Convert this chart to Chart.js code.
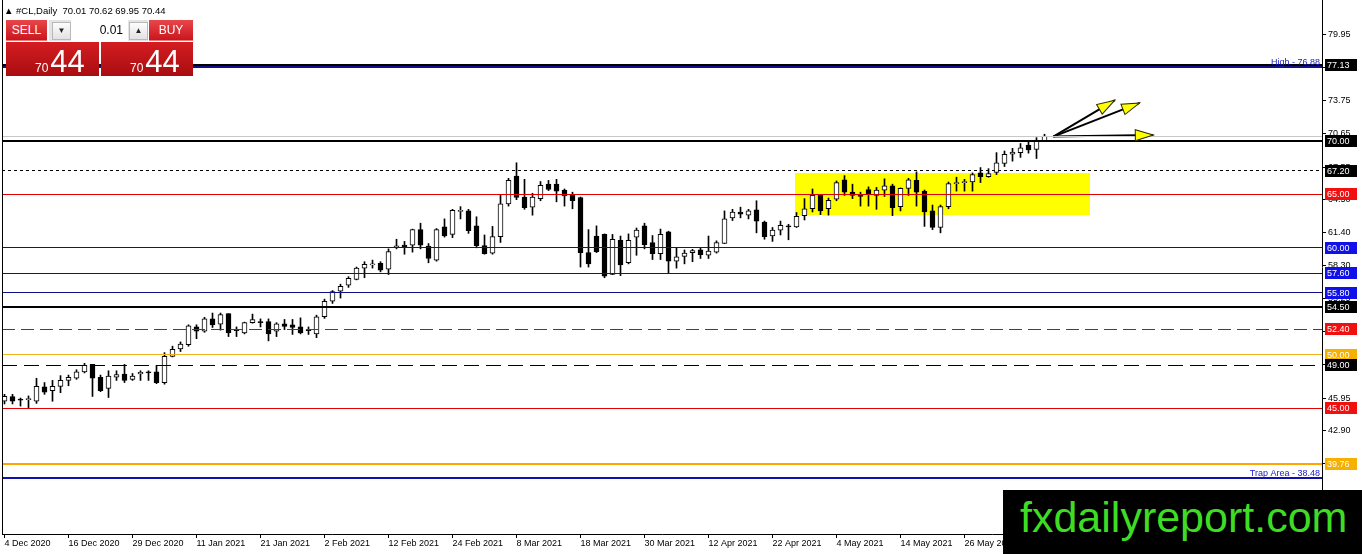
<!DOCTYPE html>
<html>
<head>
<meta charset="utf-8">
<script src="https://cdn.jsdelivr.net/npm/chart.js@4.4.0/dist/chart.umd.min.js"></script>
<style>
  html, body { margin: 0; padding: 0; background: #fff; }
  #wrap { position: relative; width: 1362px; height: 554px; overflow: hidden; font-family: "Liberation Sans", Arial, sans-serif; }
  #chart { position: absolute; left: 0; top: 0; }
  .hdr { position: absolute; left: 4px; top: 5px; font-size: 9.5px; line-height: 11px; color: #000; white-space: pre; }
  .btn { position: absolute; top: 20px; height: 21px; line-height: 21px; color: #fff; font-size: 12px; text-align: center;
         background: linear-gradient(#e8474b, #c9161c); box-sizing: border-box; border-bottom: 1px solid #e87a7c; }
  .sell { left: 6px; width: 41px; }
  .buy { left: 149px; width: 44px; }
  .spin { position: absolute; left: 49px; top: 20px; width: 99px; height: 21px; background: #e4e4e4; }
  .spin .dn, .spin .up { position: absolute; top: 2px; width: 17px; height: 16px; border: 1px solid #b8b8b8;
         background: linear-gradient(#fdfdfd, #e2e2e2); font-size: 8px; line-height: 16px; text-align: center; color: #222; }
  .spin .dn { left: 3px; }
  .spin .up { left: 80px; }
  .spin .lot { position: absolute; left: 22px; top: 0; width: 57px; height: 21px; background: #fff; font-size: 12px;
         line-height: 21px; text-align: right; box-sizing: border-box; padding-right: 5px; color: #000; }
  .quote { position: absolute; top: 42px; height: 34px; background: linear-gradient(#d41d22, #a80d11); color: #fff; }
  .q1 { left: 6px; width: 93px; }
  .q2 { left: 101px; width: 92px; }
  .quote .num { position: absolute; bottom: -1px; line-height: 1; white-space: nowrap; }
  .q1 .num { left: 29px; }
  .q2 .num { left: 29px; }
  .quote .s { font-size: 12px; }
  .quote .b { font-size: 31px; margin-left: 2px; }
  .mark { position: absolute; left: 1003px; top: 490px; width: 359px; height: 64px; background: #000; }
  .mark span { position: absolute; left: 17px; top: 6px; font-size: 43px; line-height: 43px; color: #3fdc24; white-space: nowrap; }
</style>
</head>
<body>
<div id="wrap">
  <canvas id="chart" width="1362" height="554"></canvas>
  <div class="hdr">▲ #CL,Daily  70.01 70.62 69.95 70.44</div>
  <div class="btn sell">SELL</div>
  <div class="spin"><div class="dn">▼</div><div class="lot">0.01</div><div class="up">▲</div></div>
  <div class="btn buy">BUY</div>
  <div class="quote q1"><div class="num"><span class="s">70</span><span class="b">44</span></div></div>
  <div class="quote q2"><div class="num"><span class="s">70</span><span class="b">44</span></div></div>
  <div class="mark"><span>fxdailyreport.com</span></div>
</div>
<script>
// --------------------------- DATA ---------------------------

// date ticks (bar index) and their labels
const dateTicks = [0, 8, 16, 24, 32, 40, 48, 56, 64, 72, 80, 88, 96, 104, 112, 120];
const dateLabels = ['4 Dec 2020', '16 Dec 2020', '29 Dec 2020', '11 Jan 2021', '21 Jan 2021', '2 Feb 2021',
    '12 Feb 2021', '24 Feb 2021', '8 Mar 2021', '18 Mar 2021', '30 Mar 2021', '12 Apr 2021',
    '22 Apr 2021', '4 May 2021', '14 May 2021', '26 May 2021'];

// daily candles, one per bar
const opens = [45.65, 46.1, 45.85, 45.8, 45.65, 47.0, 46.65, 47.05, 47.6, 47.8,
    48.4, 49.1, 47.9, 46.85, 47.9, 48.2, 47.7, 48.2, 48.35, 48.4,
    47.4, 49.85, 50.55, 50.95, 52.6, 52.2, 53.35, 52.85, 53.85, 52.35,
    52.05, 53.0, 53.05, 53.1, 52.2, 52.9, 52.8, 52.6, 52.3, 51.95,
    53.55, 55.0, 55.95, 56.5, 57.05, 58.1, 58.4, 58.55, 58.0, 60.1,
    60.25, 60.25, 61.7, 60.15, 58.85, 61.95, 61.25, 63.4, 63.45, 62.05,
    60.2, 59.5, 61.05, 64.1, 66.7, 64.75, 63.8, 64.6, 65.95, 65.95,
    65.4, 64.95, 64.7, 59.55, 61.1, 61.25, 57.5, 60.7, 58.6, 61.0,
    62.05, 60.5, 59.45, 61.5, 58.75, 59.2, 59.55, 59.8, 59.3, 59.6,
    60.4, 62.8, 63.35, 63.05, 63.55, 62.4, 61.1, 61.65, 62.05, 61.95,
    63.0, 63.65, 64.9, 63.65, 64.55, 66.35, 65.2, 64.99, 65.45, 64.9,
    65.4, 65.8, 63.85, 65.55, 66.3, 65.3, 63.45, 61.9, 63.85, 66.0,
    66.1, 66.15, 67.0, 66.65, 67.05, 67.9, 68.75, 68.9, 69.6, 69.2,
    70.01];
const highs = [46.3, 46.3, 45.95, 46.15, 47.8, 47.4, 47.6, 48.05, 48.1, 48.6,
    49.2, 49.1, 48.1, 48.5, 48.5, 49.1, 48.25, 48.5, 48.5, 49.0,
    50.2, 50.8, 51.2, 52.8, 52.8, 53.5, 53.9, 53.9, 53.85, 52.6,
    53.05, 53.8, 53.35, 53.35, 53.0, 53.3, 53.3, 53.45, 52.6, 53.7,
    55.2, 56.0, 56.6, 57.3, 58.2, 58.7, 58.85, 58.7, 59.9, 60.8,
    60.6, 61.75, 62.3, 60.4, 61.8, 62.7, 63.6, 63.85, 63.6, 62.9,
    61.2, 62.0, 65.0, 66.5, 67.95, 66.4, 65.1, 66.2, 66.3, 66.4,
    65.5, 65.2, 64.75, 61.7, 62.05, 61.3, 61.25, 61.1, 61.3, 61.85,
    62.3, 61.15, 61.75, 61.55, 60.0, 59.8, 59.85, 60.0, 61.1, 60.65,
    63.45, 63.6, 63.8, 63.6, 64.4, 62.5, 61.9, 62.5, 62.2, 63.3,
    64.6, 65.5, 65.0, 64.65, 66.25, 66.75, 65.95, 65.2, 65.7, 65.65,
    66.45, 65.95, 65.6, 66.5, 67.1, 65.4, 64.0, 64.0, 66.15, 66.6,
    66.4, 67.0, 67.5, 67.4, 68.9, 69.05, 69.3, 69.75, 70.0, 70.3,
    70.62];
const lows = [45.4, 45.4, 45.2, 45.05, 45.45, 46.3, 45.65, 46.45, 47.1, 47.7,
    48.3, 46.1, 46.55, 46.0, 47.6, 47.4, 47.6, 47.6, 47.6, 47.3,
    47.25, 49.8, 50.3, 50.8, 51.5, 52.1, 52.55, 52.3, 51.7, 51.7,
    51.95, 52.95, 52.6, 51.3, 51.7, 52.35, 51.9, 51.95, 51.9, 51.6,
    53.4, 54.8, 55.3, 56.3, 57.0, 57.2, 58.1, 57.75, 57.5, 59.9,
    59.4, 59.6, 59.9, 58.6, 58.75, 61.0, 60.95, 62.7, 61.35, 60.0,
    59.4, 59.4, 60.5, 63.9, 64.5, 63.6, 63.05, 64.4, 65.35, 64.3,
    63.9, 63.65, 58.2, 58.2, 59.55, 57.2, 57.5, 57.4, 58.5, 59.3,
    59.9, 58.9, 58.9, 57.6, 58.1, 58.5, 58.7, 59.0, 59.0, 59.5,
    60.4, 62.55, 62.8, 62.7, 61.4, 60.8, 60.6, 61.2, 60.75, 61.9,
    62.6, 63.35, 63.1, 63.05, 64.4, 64.9, 64.6, 63.9, 63.9, 63.6,
    64.8, 63.0, 63.45, 64.9, 63.9, 62.0, 61.7, 61.4, 63.65, 65.3,
    65.3, 65.3, 66.1, 66.6, 66.85, 67.6, 68.1, 68.45, 68.85, 68.35,
    69.95];
const closes = [46.12, 45.65, 45.75, 45.85, 47.05, 46.5, 47.05, 47.6, 47.9, 48.4,
    49.0, 47.8, 46.65, 48.0, 48.15, 47.6, 48.0, 48.35, 48.3, 47.4,
    49.85, 50.5, 51.0, 52.7, 52.2, 53.35, 52.8, 53.75, 52.05, 52.25,
    53.0, 53.3, 53.0, 51.95, 52.9, 52.65, 52.55, 52.05, 52.25, 53.55,
    55.0, 55.9, 56.4, 57.15, 58.1, 58.45, 58.45, 57.9, 59.65, 60.15,
    60.1, 61.7, 60.25, 59.0, 61.7, 61.1, 63.5, 63.45, 61.6, 60.2,
    59.45, 61.05, 64.1, 66.3, 64.7, 63.75, 64.75, 65.85, 65.45, 65.3,
    64.85, 64.4, 59.55, 58.5, 59.65, 57.35, 60.8, 58.4, 60.7, 61.65,
    60.3, 59.45, 61.25, 58.75, 59.15, 59.5, 59.75, 59.35, 59.7, 60.5,
    62.7, 63.35, 63.15, 63.45, 62.5, 61.05, 61.65, 62.1, 61.95, 62.95,
    63.65, 64.9, 63.45, 64.45, 66.1, 65.2, 64.9, 64.8, 64.99, 65.4,
    65.8, 63.75, 65.55, 66.35, 65.2, 63.35, 61.9, 63.85, 66.0, 66.05,
    66.15, 66.85, 66.65, 66.95, 67.95, 68.75, 68.95, 69.35, 69.15, 70.0,
    70.44];

// price axis ticks
const priceTicks = [79.95, 76.85, 73.75, 70.65, 67.55, 64.50, 61.40, 58.30, 55.25, 52.15, 49.05, 45.95, 42.90, 39.80, 36.70];

// horizontal levels drawn on the chart
const levels = [77.13, 76.88, 70.44, 70.00, 67.20, 65.00, 60.00, 57.60, 55.80, 54.50, 52.40, 50.00, 49.00, 45.00, 39.76, 38.48];
// levels with a price tag on the right axis
const tagLevels = [77.13, 70.00, 67.20, 65.00, 60.00, 57.60, 55.80, 54.50, 52.40, 50.00, 49.00, 45.00, 39.76];
// text notes sitting on a level
const noteTexts = ['High - 76.88', 'Trap Area - 38.48'];
const noteLevels = [76.88, 38.48];

// yellow consolidation box (bar index range, price range)
const zoneX = [98.8, 135.7];
const zoneY = [63.07, 67.0];

// projection arrows: common start and three tips (bar index, price)
const arrowFrom = [131.1, 70.4];
const arrowTips = [[138.8, 73.8], [141.9, 73.55], [143.6, 70.55]];

// --------------------------- STYLES ---------------------------

const xMin = -0.3125, xMax = 164.6875;
const yMin = 33.24, yMax = 83.17;
const FONT = 'Liberation Sans';

const levelStyles = [
    { c: '#000000', w: 2 },            // 77.13
    { c: '#10108c', w: 2 },            // 76.88
    { c: '#c8c8c8', w: 1 },            // 70.44 bid
    { c: '#000000', w: 2 },            // 70.00
    { c: '#000000', w: 1, d: [3, 3] }, // 67.20
    { c: '#e00000', w: 1 },            // 65.00
    { c: '#10108c', w: 1 },            // 60.00
    { c: '#10108c', w: 1 },            // 57.60
    { c: '#10108c', w: 1 },            // 55.80
    { c: '#000000', w: 2 },            // 54.50
    { c: '#e00000', w: 1, d: [13, 6] },// 52.40
    { c: '#f2b01e', w: 1 },            // 50.00
    { c: '#000000', w: 1, d: [15, 7] },// 49.00
    { c: '#e00000', w: 1 },            // 45.00
    { c: '#ffa500', w: 2 },            // 39.76
    { c: '#1010b0', w: 2 }             // 38.48
];
const tagColors = ['#000000', '#000000', '#000000', '#f01010', '#1010e8', '#1010e8', '#1010e8',
    '#000000', '#f01010', '#f5b000', '#000000', '#f01010', '#f5b000'];

// --------------------------- DATASETS ---------------------------

const idx = opens.map((_, i) => i);

const bodies = {
    type: 'bar',
    order: 1,
    data: idx.map(i => ({ x: i, y: [opens[i], closes[i]] })),
    backgroundColor: idx.map(i => closes[i] >= opens[i] ? '#ffffff' : '#000000'),
    borderColor: '#000000',
    borderWidth: 1,
    borderSkipped: false,
    barThickness: 5,
    minBarLength: 1,
    grouped: false
};

const wicks = {
    type: 'bar',
    order: 2,
    data: idx.map(i => ({ x: i, y: [lows[i], highs[i]] })),
    backgroundColor: '#000000',
    borderWidth: 0,
    barThickness: 1,
    grouped: false
};

const levelLines = levels.map((v, k) => ({
    type: 'line',
    order: 0,
    isLevel: true,
    data: [{ x: xMin, y: v }, { x: xMax, y: v }],
    borderColor: levelStyles[k].c,
    borderWidth: levelStyles[k].w,
    borderDash: levelStyles[k].d || [],
    pointRadius: 0
}));

const arrowLines = arrowTips.map(t => ({
    type: 'line',
    order: 0,
    data: [{ x: arrowFrom[0], y: arrowFrom[1] }, { x: t[0], y: t[1] }],
    borderColor: '#000000',
    borderWidth: 2,
    pointRadius: 0
}));

// --------------------------- PLUGINS ---------------------------

// yellow box in the background + snap level lines onto whole pixels
const zoneBox = {
    id: 'zoneBox',
    beforeDatasetsDraw(chart) {
        const { ctx, scales: { x, y } } = chart;
        const l = x.getPixelForValue(zoneX[0]), r = x.getPixelForValue(zoneX[1]);
        const t = y.getPixelForValue(zoneY[1]), b = y.getPixelForValue(zoneY[0]);
        ctx.save();
        ctx.fillStyle = '#ffff00';
        ctx.fillRect(Math.round(l), Math.round(t), Math.round(r - l), Math.round(b - t));
        ctx.restore();

        chart.data.datasets.forEach((ds, i) => {
            if (!ds.isLevel) return;
            const off = ds.borderWidth % 2 ? 0.5 : 0;
            chart.getDatasetMeta(i).data.forEach(p => { p.y = Math.round(p.y - off) + off; });
        });
    }
};

const overlays = {
    id: 'overlays',
    afterDatasetsDraw(chart) {
        const { ctx, chartArea, scales: { x, y } } = chart;
        // arrow heads
        const x0 = x.getPixelForValue(arrowFrom[0]), y0 = y.getPixelForValue(arrowFrom[1]);
        arrowTips.forEach(t => {
            const x1 = x.getPixelForValue(t[0]), y1 = y.getPixelForValue(t[1]);
            ctx.save();
            ctx.translate(x1, y1);
            ctx.rotate(Math.atan2(y1 - y0, x1 - x0));
            ctx.beginPath();
            ctx.moveTo(0, 0);
            ctx.lineTo(-18, -5.5);
            ctx.lineTo(-18, 5.5);
            ctx.closePath();
            ctx.fillStyle = '#ffff00';
            ctx.fill();
            ctx.strokeStyle = '#2a2a00';
            ctx.lineWidth = 1;
            ctx.stroke();
            ctx.restore();
        });
        // notes on levels
        ctx.save();
        ctx.font = `9px "${FONT}"`;
        ctx.fillStyle = '#2020c8';
        ctx.textAlign = 'right';
        ctx.textBaseline = 'alphabetic';
        noteTexts.forEach((s, k) => ctx.fillText(s, chartArea.right - 2, Math.round(y.getPixelForValue(noteLevels[k])) - 2));
        ctx.restore();
    },
    afterDraw(chart) {
        const { ctx, chartArea, scales: { y } } = chart;
        ctx.save();
        // left frame
        ctx.fillStyle = '#000';
        ctx.fillRect(chartArea.left, chartArea.top, 1, chartArea.bottom - chartArea.top);
        // price tags
        ctx.font = `9px "${FONT}"`;
        ctx.textBaseline = 'middle';
        ctx.textAlign = 'left';
        tagLevels.forEach((v, k) => {
            const py = Math.round(y.getPixelForValue(v));
            ctx.fillStyle = tagColors[k];
            ctx.fillRect(chartArea.right + 3, py - 6, 32, 12);
            ctx.fillStyle = '#ffffff';
            ctx.fillText(v.toFixed(2), chartArea.right + 5, py + 0.5);
        });
        ctx.restore();
    }
};

// --------------------------- CHART ---------------------------

const ctx = document.querySelector('#chart');
const myChart = new Chart(ctx, {
    type: 'bar',
    data: { datasets: [bodies, wicks, ...levelLines, ...arrowLines] },
    options: {
        responsive: false,
        devicePixelRatio: 1,
        animation: false,
        events: [],
        layout: { padding: { left: 2, top: 0, right: 0, bottom: 0 } },
        plugins: { legend: { display: false }, tooltip: { enabled: false } },
        scales: {
            x: {
                type: 'linear',
                min: xMin,
                max: xMax,
                offset: false,
                afterFit(s) { s.height = 20; s.paddingLeft = 0; s.paddingRight = 0; },
                afterBuildTicks(s) { s.ticks = dateTicks.map(v => ({ value: v })); },
                ticks: {
                    autoSkip: false,
                    maxRotation: 0,
                    align: 'start',
                    padding: 0,
                    color: '#000',
                    font: { family: FONT, size: 9 },
                    callback: (v, i) => dateLabels[i]
                },
                grid: { drawOnChartArea: false, offset: false, tickLength: 4, color: '#000' },
                border: { color: '#000', width: 1 }
            },
            y: {
                type: 'linear',
                position: 'right',
                min: yMin,
                max: yMax,
                afterFit(s) { s.width = 40; s.paddingTop = 0; s.paddingBottom = 0; },
                afterBuildTicks(s) { s.ticks = priceTicks.map(v => ({ value: v })); },
                ticks: {
                    autoSkip: false,
                    padding: 2,
                    color: '#000',
                    font: { family: FONT, size: 9 },
                    callback: v => v.toFixed(2)
                },
                grid: { drawOnChartArea: false, tickLength: 4, color: '#000' },
                border: { color: '#000', width: 1 }
            }
        }
    },
    plugins: [zoneBox, overlays]
});
</script>
</body>
</html>
